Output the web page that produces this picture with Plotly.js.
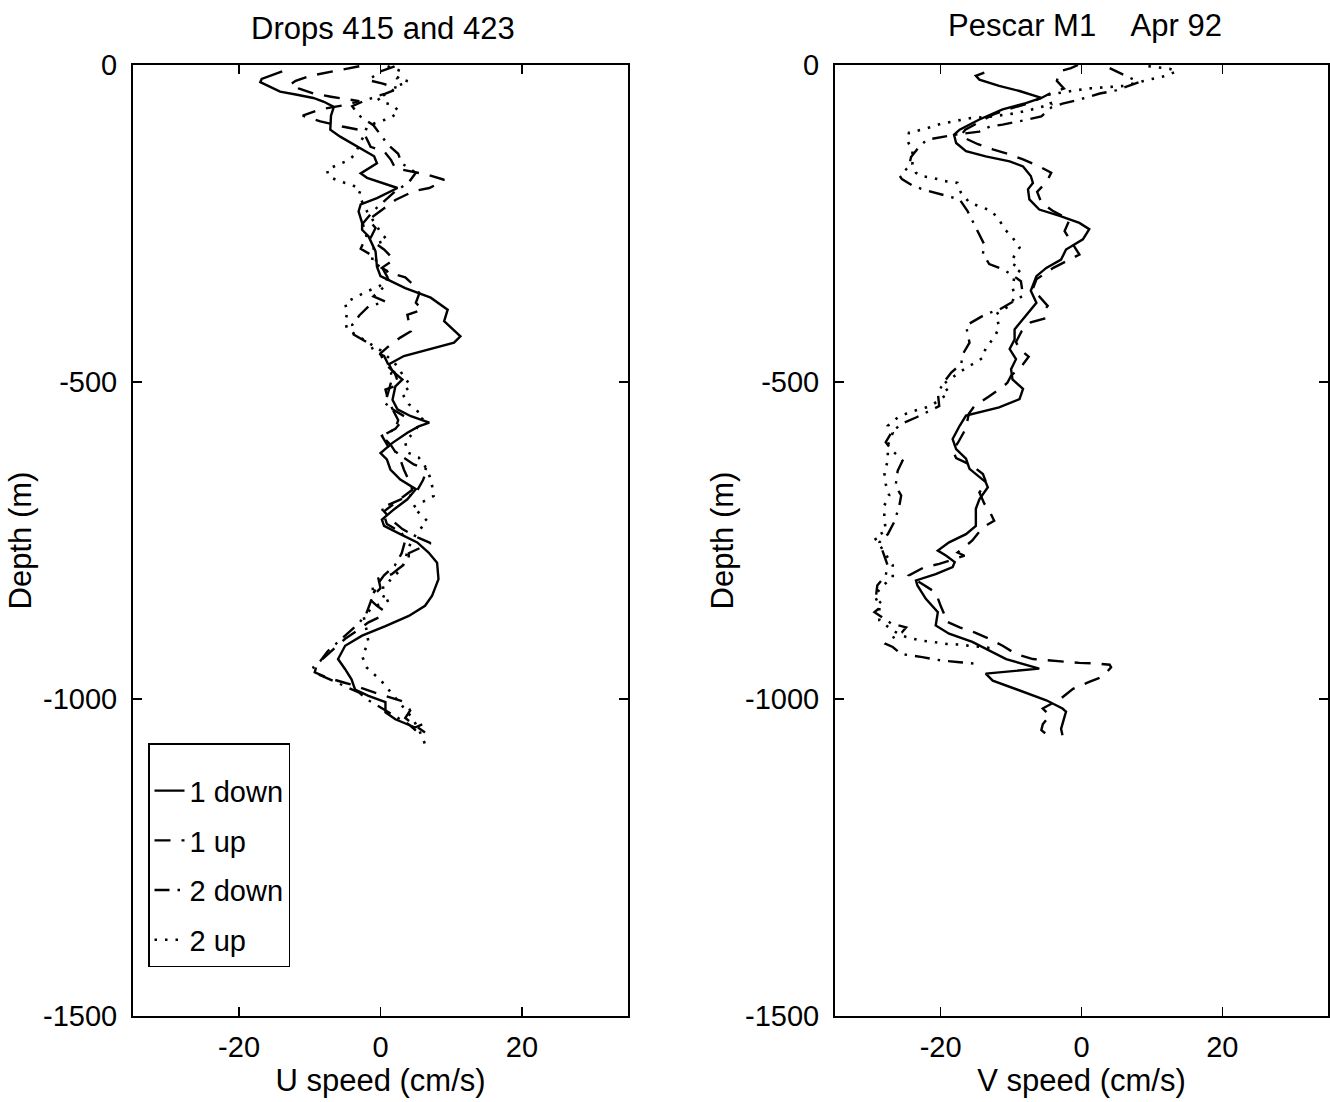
<!DOCTYPE html>
<html>
<head>
<meta charset="utf-8">
<script src="https://cdn.plot.ly/plotly-3.0.1.min.js"></script>
<style>html,body{margin:0;padding:0;background:#fff;}#chart{width:1330px;height:1102px;}</style>
</head>
<body>
<div id="chart"></div>
<script>
// ---- DATA: [depth (m), speed (cm/s)] ----
const leftTitle = "Drops 415 and 423";
const rightTitle = "Pescar M1\u00A0\u00A0\u00A0\u00A0Apr 92";
const seriesNames = ["1 down", "1 up", "2 down", "2 up"];
const xTicks = [-20, 0, 20];
const yTicks = [0, -500, -1000, -1500];

// Left panel: U speed
const uDown1 = [[-10,-13.9],[-22,-16.8],[-27,-17],[-42,-14.2],[-47,-11.8],[-52,-9.5],[-58,-8],[-66,-6.6],[-80,-7],[-92,-7.1],[-102,-7.1],[-113,-5.7],[-131,-2.8],[-144,-0.9],[-155,-0.5],[-171,-2.8],[-178,-1.9],[-194,2.4],[-210,-0.5],[-220,-2.8],[-231,-3.1],[-249,-2.6],[-260,-2.6],[-270,-1.7],[-294,-0.7],[-318,-0.5],[-333,0],[-341,1.4],[-352,3.5],[-367,7.1],[-386,9.5],[-404,9],[-428,11.3],[-438,10.4],[-449,6.6],[-459,3.3],[-472,1.2],[-483,1.7],[-496,3.1],[-507,2.1],[-528,1.7],[-543,2.4],[-554,4.3],[-564,6.9],[-570,5.4],[-580,3.8],[-596,1.7],[-612,0],[-622,0.9],[-638,1.4],[-654,2.8],[-669,5],[-685,3.8],[-701,1.9],[-717,0.2],[-727,0.5],[-740,2.8],[-753,5.2],[-769,6.8],[-785,8.0],[-811,8.2],[-837,7.3],[-853,6.3],[-869,4.0],[-885,0.7],[-900,-2.6],[-916,-5],[-937,-6],[-953,-5],[-969,-4.1],[-985,-3.6],[-995,-1.7],[-1005,0.7],[-1021,0.7],[-1032,2.1],[-1045,4.9],[-1040,5.9]];
const uUp1 = [[-2,-3],[-8,-5.7],[-13,-7.8],[-17,-9.9],[-25,-12],[-31,-12.8],[-37,-11.6],[-45,-9.5],[-50,-7],[-57,-3],[-63,-5],[-70,-8.5],[-80,-11],[-89,-8.5],[-97,-5.4],[-102,-3.1],[-115,-2],[-129,-1.4],[-136,0.5],[-150,1.5],[-163,2.1],[-168,4.5],[-173,6.6],[-181,9.0],[-188,8],[-194,6.9],[-199,4.7],[-213,2.1],[-223,0.9],[-235,-0.5],[-244,-1.7],[-257,-0.7],[-275,-1.5],[-291,0.5],[-307,1.9],[-320,0.2],[-328,1.4],[-335,3.5],[-345,4.5],[-360,5.5],[-375,5],[-386,5.9],[-394,3.8],[-405,4],[-420,4.3],[-430,2.8],[-445,1],[-455,0],[-470,0.5],[-485,2],[-504,2.6],[-512,0.7],[-525,1],[-543,1.7],[-555,3.5],[-574,2.1],[-585,0.2],[-600,1.5],[-622,2.8],[-638,3.3],[-655,4],[-670,4.5],[-690,2.1],[-704,0.5],[-717,1.5],[-732,3.1],[-746,5.4],[-754,7.1],[-770,4],[-782,4],[-795,2.5],[-803,1.6],[-810,-0.3],[-825,0],[-843,-1.5],[-853,-0.5],[-861,0.5],[-869,0.2],[-879,-1.7],[-890,-3],[-905,-5],[-920,-6.5],[-935,-8],[-945,-9],[-958,-9.3],[-966,-7.6],[-974,-5.2],[-979,-3.6],[-990,-0.8],[-1005,3.5],[-1018,4.2],[-1030,3.5],[-1042,4.9],[-1053,6.3]];
const uDown2 = [[-2,2],[-10,0],[-24,-1.7],[-29,0.2],[-37,2.6],[-45,0.7],[-55,-2],[-65,-4],[-80,-3],[-95,-1],[-110,0],[-125,1],[-140,2.5],[-155,3],[-170,5],[-185,4],[-200,2],[-215,0.5],[-230,-1],[-250,-2.5],[-270,-2],[-290,-2.8],[-299,-1.4],[-315,0],[-335,1],[-350,0.5],[-365,-1],[-373,0.7],[-381,-1.7],[-395,-3],[-410,-4],[-425,-3.8],[-440,-1.5],[-452,-0.9],[-459,0.5],[-470,1],[-485,1.5],[-500,1.5],[-520,1],[-532,0.5],[-543,1.7],[-560,2.5],[-574,2.1],[-585,0.2],[-600,1],[-614,2.6],[-630,4.7],[-638,6.6],[-655,6],[-675,5],[-690,1.8],[-698,0.2],[-710,0.5],[-724,0.9],[-738,3],[-750,3.5],[-770,3],[-790,2],[-805,0.5],[-820,-0.5],[-835,-1],[-850,-1.5],[-865,-2],[-880,-3],[-895,-4.5],[-910,-6],[-925,-7.5],[-940,-8.5],[-950,-9.5],[-960,-9],[-970,-7],[-980,-5],[-990,-3],[-1000,-2],[-1010,-0.5],[-1020,1],[-1030,2.5],[-1040,4],[-1050,5]];
const uUp2 = [[-2,1],[-10,3],[-21,2.4],[-26,4],[-34,2.1],[-45,1.4],[-50,-0.5],[-58,0],[-63,1.7],[-73,2.6],[-84,1.4],[-89,-0.2],[-97,-1.9],[-113,-2.4],[-125,-3],[-140,-3.5],[-150,-4.5],[-157,-5.9],[-165,-7.6],[-176,-7.3],[-184,-5.7],[-189,-4],[-197,-2.8],[-205,-3.1],[-231,-1.9],[-239,-1.4],[-260,-0.2],[-276,0.9],[-283,-0.9],[-310,-1.2],[-325,0.9],[-335,1.5],[-349,-0.2],[-357,-1.9],[-365,-3.3],[-375,-5],[-391,-4.7],[-405,-5],[-417,-4.7],[-433,-2.4],[-450,0],[-470,2],[-493,3.5],[-507,4.3],[-517,3],[-535,4],[-554,6.1],[-575,5],[-595,3.5],[-611,3.8],[-619,5.4],[-633,6.3],[-650,7],[-664,7.3],[-680,7.5],[-698,4.5],[-706,5.4],[-719,6.6],[-740,5],[-760,4],[-780,3.5],[-795,3],[-810,1.5],[-824,0.7],[-827,-1.7],[-843,1.4],[-855,-1],[-869,-2.4],[-890,-2],[-911,-1.7],[-932,-2.6],[-950,-2],[-970,0],[-990,1.5],[-1010,3],[-1030,4.5],[-1050,5.5],[-1071,6.3]];

// Right panel: V speed
const vDown1 = [[-12,-13.8],[-17,-15],[-23,-14.5],[-33,-11.7],[-41,-8.8],[-52,-5.7],[-60,-7.9],[-70,-11.2],[-86,-14.5],[-102,-17.3],[-110,-18.1],[-123,-17.8],[-136,-16.4],[-144,-13.6],[-152,-10.2],[-160,-8.3],[-175,-7.2],[-186,-6.9],[-196,-7.6],[-212,-7.4],[-228,-6],[-238,-3.1],[-249,-0.3],[-259,1.1],[-275,0.2],[-291,-2.2],[-307,-2.9],[-320,-5],[-333,-6.4],[-356,-7.2],[-375,-6.4],[-396,-7.9],[-417,-9.5],[-433,-9.5],[-448,-10.2],[-464,-9.3],[-480,-10],[-496,-9.8],[-511,-8.3],[-527,-8.8],[-540,-11.7],[-553,-16.4],[-569,-17.3],[-590,-18.3],[-606,-17.8],[-621,-16.4],[-637,-15.9],[-658,-13.6],[-666,-13.3],[-685,-14.5],[-700,-15],[-727,-15],[-740,-16.4],[-753,-18.8],[-766,-20.4],[-774,-19.2],[-784,-18],[-792,-18.3],[-803,-20.7],[-813,-23.5],[-821,-23.3],[-842,-22.1],[-863,-20.4],[-884,-20.7],[-897,-18.8],[-910,-15.5],[-926,-12.6],[-937,-10.7],[-952,-6],[-960,-13.6],[-971,-12.6],[-987,-8.8],[-1002,-5],[-1015,-2.7],[-1020,-2.2],[-1047,-2.9],[-1057,-2.7]];
const vUp1 = [[0,-0.5],[-5,-1.5],[-10,-3.1],[-25,-3.5],[-37,-2.5],[-45,-4.5],[-52,-5.7],[-62,-8],[-70,-10.5],[-78,-12.5],[-90,-14.5],[-102,-16.5],[-112,-17.2],[-125,-14.7],[-133,-12.6],[-141,-10.2],[-149,-8.3],[-160,-6],[-170,-4.3],[-185,-5],[-200,-6.3],[-217,-5.7],[-230,-4.1],[-244,-1.7],[-262,-2.4],[-283,-1.2],[-299,-0.3],[-320,-4],[-338,-6.4],[-356,-7],[-365,-6],[-380,-4.8],[-390,-5.5],[-400,-5.3],[-406,-7.2],[-420,-8.5],[-437,-9.3],[-448,-8.8],[-460,-7.5],[-475,-8.5],[-490,-10],[-501,-10.5],[-508,-11.2],[-524,-13.3],[-538,-15.2],[-550,-16],[-561,-16.2],[-577,-16.6],[-595,-17.5],[-608,-18.3],[-620,-17.8],[-632,-15.5],[-645,-14],[-660,-13.5],[-674,-14.5],[-692,-13.8],[-705,-13],[-719,-12.4],[-729,-14],[-750,-15.5],[-769,-17.6],[-774,-16.6],[-787,-20.2],[-792,-22.3],[-805,-24.5],[-816,-23],[-832,-20.7],[-853,-20],[-866,-19.5],[-876,-19.5],[-887,-17.3],[-895,-15.2],[-905,-13.1],[-916,-11.2],[-929,-9.3],[-937,-6.9],[-939,-4.8],[-942,-2.4],[-943,-0.3],[-944,2.1],[-946,4.0],[-950,4.2],[-965,3],[-973,1.1],[-984,-1.2],[-999,-2.9],[-1015,-5.5],[-1026,-4.5],[-1040,-5.5],[-1049,-5.7],[-1060,-4.5]];
const vDown2 = [[-5,4],[-18,6.6],[-27,8.2],[-40,4.9],[-45,2.6],[-55,-0.5],[-61,-2.7],[-67,-4.3],[-81,-5.7],[-86,-7.6],[-90,-9.3],[-94,-11.2],[-97,-13],[-105,-14.5],[-110,-18],[-118,-22],[-131,-23.2],[-145,-24.2],[-160,-24.5],[-175,-25.8],[-180,-25.5],[-190,-24],[-196,-22.6],[-203,-20.4],[-207,-19],[-212,-17.3],[-230,-16.2],[-245,-15.5],[-262,-14.7],[-283,-13.8],[-298,-14],[-314,-13.1],[-322,-11.2],[-330,-10],[-341,-8.6],[-364,-8.3],[-375,-10],[-386,-11.7],[-393,-13.6],[-411,-16.4],[-438,-15.9],[-455,-16.8],[-472,-17.1],[-485,-18.5],[-500,-19.5],[-517,-20.4],[-538,-20.2],[-548,-22],[-556,-23.5],[-566,-25.6],[-580,-27],[-595,-27.8],[-609,-26.8],[-624,-25.4],[-640,-26.1],[-664,-26.4],[-679,-25.6],[-697,-25.9],[-721,-26.6],[-740,-27.5],[-753,-28.7],[-774,-28],[-790,-27.5],[-805,-27.8],[-821,-29],[-840,-29.2],[-852,-28.2],[-863,-29.4],[-870,-28.5],[-881,-27],[-887,-24.9],[-895,-25.5],[-905,-27],[-913,-27.8],[-918,-26.8],[-929,-25.6],[-934,-22.6],[-939,-20],[-942,-17.3],[-945,-14.5]];
const vUp2 = [[-2,9.5],[-6,12.5],[-10,13.5],[-17,12],[-22,10],[-27,8],[-33,6],[-35,3.5],[-37,1],[-42,-2],[-47,-4.8],[-55,-4.5],[-62,-4.3],[-70,-7],[-76,-9.3],[-81,-12.6],[-84,-15.9],[-88,-17.8],[-93,-20],[-100,-22],[-107,-24.5],[-120,-24.7],[-135,-24],[-146,-24],[-157,-24],[-170,-23.5],[-175,-22.8],[-178,-21.1],[-183,-19.5],[-186,-17.6],[-202,-17.1],[-217,-15.9],[-223,-14.5],[-230,-12.8],[-244,-11.7],[-259,-10.9],[-272,-9.8],[-288,-8.8],[-300,-9.5],[-312,-10],[-322,-8.6],[-333,-9.5],[-350,-9.8],[-365,-9.5],[-378,-10],[-393,-12.1],[-414,-11.7],[-430,-12.4],[-446,-13.6],[-462,-14],[-472,-15.5],[-483,-17.1],[-504,-19.7],[-517,-18.8],[-538,-21.4],[-543,-22.8],[-548,-24.5],[-556,-26.1],[-569,-27.5],[-580,-26.8],[-600,-27.5],[-624,-27.5],[-643,-28],[-661,-27.8],[-679,-27.3],[-695,-28],[-713,-28],[-735,-27.8],[-745,-29.4],[-760,-28.5],[-776,-27.5],[-789,-26.8],[-808,-26.8],[-821,-28.2],[-837,-29.4],[-852,-28.7],[-876,-28.7],[-890,-27],[-900,-25.6],[-908,-22.8],[-910,-21.1],[-913,-19.2],[-914,-17.6],[-916,-15.9],[-918,-14.2],[-920,-12.6]];

// ---- STYLES ----
const styles = [
  {dash: 'solid', width: 2.4},
  {dash: '16px,11px', width: 2.4},
  {dash: '15px,8px,2.5px,8px', width: 2.4},
  {dash: '2.5px,8px', width: 2.6}
];
const FONT = 'Liberation Sans, Arial, Helvetica, sans-serif';

function mk(pairs, idx, xa, ya, showleg) {
  return {
    x: pairs.map(p => p[1]),
    y: pairs.map(p => p[0]),
    xaxis: xa, yaxis: ya,
    type: 'scatter', mode: 'lines',
    name: seriesNames[idx],
    legendgroup: 'g' + idx,
    showlegend: showleg,
    line: {color: '#000', width: styles[idx].width, dash: styles[idx].dash},
    hoverinfo: 'skip'
  };
}

const traces = [
  mk(uDown1, 0, 'x', 'y', true),
  mk(uUp1, 1, 'x', 'y', true),
  mk(uDown2, 2, 'x', 'y', true),
  mk(uUp2, 3, 'x', 'y', true),
  mk(vDown1, 0, 'x2', 'y2', false),
  mk(vUp1, 1, 'x2', 'y2', false),
  mk(vDown2, 2, 'x2', 'y2', false),
  mk(vUp2, 3, 'x2', 'y2', false)
];

const W = 1330, H = 1102;
const mL = 0, mR = 2, mT = 65, mB = 86;
const pw = W - mL - mR;
const leftDom = [133 / pw, 628 / pw];
const rightDom = [835 / pw, 1.0];

function xax(dom, anchor, title) {
  return {
    domain: dom, anchor: anchor, range: [-35, 35],
    tickvals: xTicks, ticktext: xTicks.map(String),
    ticks: 'inside', ticklen: 9, tickwidth: 1.5, tickcolor: '#000',
    showline: true, linecolor: '#000', linewidth: 2, mirror: 'ticks',
    showgrid: false, zeroline: false,
    tickfont: {family: FONT, size: 29, color: '#000'},
    ticklabelstandoff: 4,
    title: {text: title, font: {family: FONT, size: 31, color: '#000'}, standoff: 0}
  };
}
function yax(anchor) {
  return {
    anchor: anchor, domain: [0, 1], range: [-1500, 0],
    tickvals: yTicks, ticktext: yTicks.map(String),
    ticks: 'inside', ticklen: 9, tickwidth: 1.5, tickcolor: '#000',
    showline: true, linecolor: '#000', linewidth: 2, mirror: 'ticks',
    showgrid: false, zeroline: false,
    tickfont: {family: FONT, size: 29, color: '#000'},
    ticklabelstandoff: 8,
    title: {text: 'Depth (m)', font: {family: FONT, size: 31, color: '#000'}, standoff: 2}
  };
}

const layout = {
  width: W, height: H,
  margin: {l: mL, r: mR, t: mT, b: mB, pad: 0},
  paper_bgcolor: '#fff', plot_bgcolor: '#fff',
  font: {family: FONT, color: '#000'},
  xaxis: xax(leftDom, 'y', 'U speed (cm/s)'),
  yaxis: yax('x'),
  xaxis2: xax(rightDom, 'y2', 'V speed (cm/s)'),
  yaxis2: yax('x2'),
  showlegend: true,
  legend: {
    x: 148 / pw, y: (1016 - 743) / (1016 - 65), xanchor: 'left', yanchor: 'top',
    bgcolor: '#fff', bordercolor: '#000', borderwidth: 1.5,
    font: {family: FONT, size: 29, color: '#000'},
    title: {text: ' ', font: {family: FONT, size: 16, color: '#000'}},
    traceorder: 'grouped', tracegroupgap: 9, itemwidth: 30
  },
  annotations: [
    {text: leftTitle, xref: 'paper', yref: 'paper', x: 383 / pw, y: 1, yshift: 37,
     xanchor: 'center', yanchor: 'middle', showarrow: false, font: {family: FONT, size: 31, color: '#000'}},
    {text: rightTitle, xref: 'paper', yref: 'paper', x: 1085 / pw, y: 1, yshift: 40,
     xanchor: 'center', yanchor: 'middle', showarrow: false, font: {family: FONT, size: 31, color: '#000'}}
  ]
};

Plotly.newPlot('chart', traces, layout, {staticPlot: true, displayModeBar: false});
</script>
</body>
</html>
